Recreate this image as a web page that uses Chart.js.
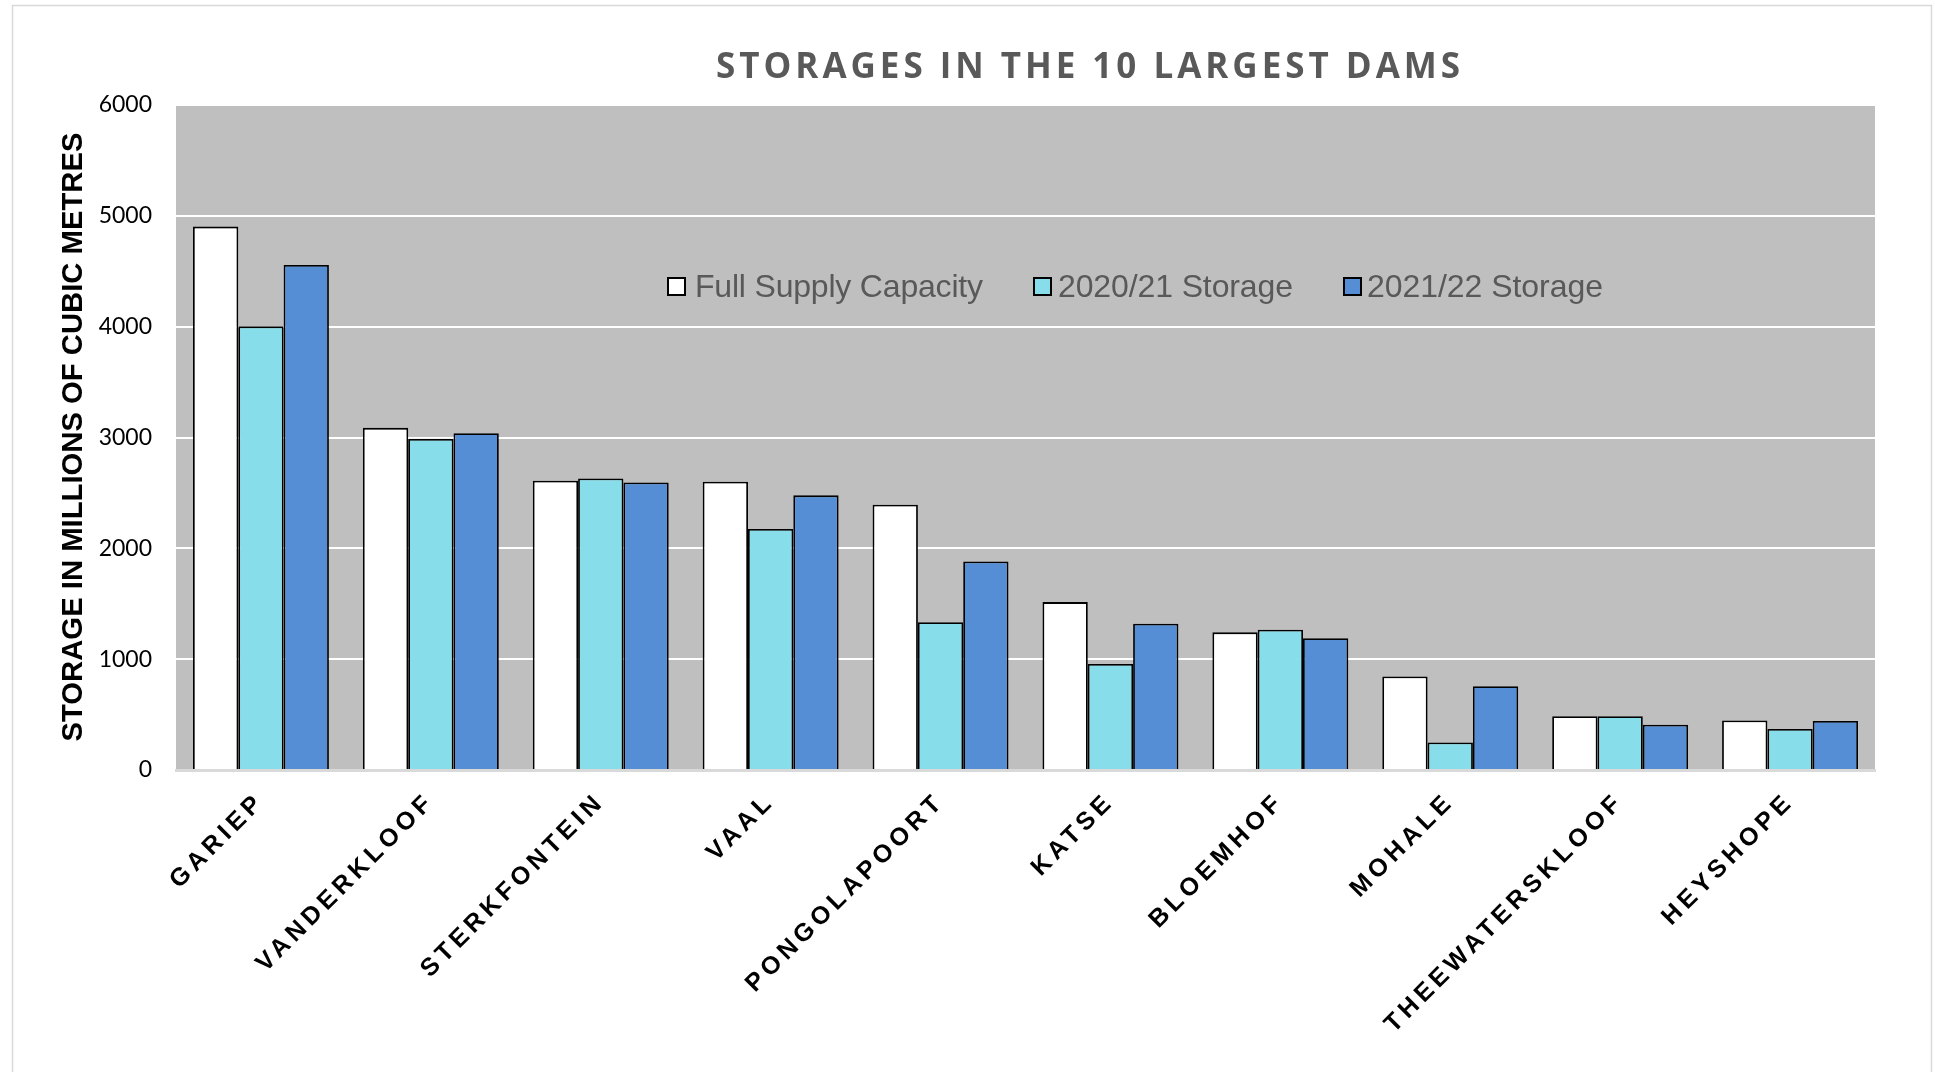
<!DOCTYPE html>
<html>
<head>
<meta charset="utf-8">
<script src="https://cdn.jsdelivr.net/npm/chart.js@4"></script>
<style>
html,body{margin:0;padding:0;background:#fff;}
#wrap{position:relative;width:1935px;height:1072px;}
</style>
</head>
<body>
<div id="wrap"><canvas id="c" width="1935" height="1072"></canvas></div>
<script>
// ---- data ----
const dams = ["GARIEP","VANDERKLOOF","STERKFONTEIN","VAAL","PONGOLAPOORT","KATSE","BLOEMHOF","MOHALE","THEEWATERSKLOOF","HEYSHOPE"];
const fullSupplyCapacity = [4903, 3087, 2610, 2601, 2393, 1515, 1242, 844, 485, 447];
const storage2020_21 = [4003, 2988, 2631, 2174, 1333, 957, 1265, 248, 485, 371];
const storage2021_22 = [4557, 3039, 2595, 2478, 1882, 1320, 1189, 755, 409, 443];
const seriesLabels = ["Full Supply Capacity", "2020/21 Storage", "2021/22 Storage"];
const yTicks = [0, 1000, 2000, 3000, 4000, 5000, 6000];
const chartTitle = "STORAGES IN THE 10 LARGEST DAMS";
const yAxisTitle = "STORAGE IN MILLIONS OF CUBIC METRES";

const colors = ["#FFFFFF", "#87DEEA", "#558ED5"];

const decor = {
  id: 'decor',
  beforeDraw(chart) {
    const {ctx, chartArea: a} = chart;
    ctx.save();
    ctx.fillStyle = '#BFBFBF';
    ctx.fillRect(a.left, a.top, a.right - a.left, a.bottom - a.top);
    ctx.restore();
  },
  afterDatasetsDraw(chart) {
    chart.ctx.letterSpacing = '4.5px';
  },
  afterDraw(chart) {
    const ctx = chart.ctx;
    ctx.letterSpacing = '0px';
    ctx.save();
    // outer border
    ctx.strokeStyle = '#D9D9D9';
    ctx.lineWidth = 1.5;
    ctx.strokeRect(12.5, 5.5, 1919, 1100);
    // title
    ctx.font = 'bold 35px "Open Sans"';
    ctx.fillStyle = '#595959';
    ctx.textBaseline = 'alphabetic';
    ctx.textAlign = 'left';
    let w = ctx.measureText(chartTitle).width;
    let sp = (744 - w) / (chartTitle.length - 1);
    ctx.letterSpacing = sp + 'px';
    ctx.fillText(chartTitle, 716, 78);
    ctx.letterSpacing = '0px';
    // y title
    ctx.font = 'bold 29px "Liberation Sans"';
    ctx.fillStyle = '#000';
    w = ctx.measureText(yAxisTitle).width;
    ctx.save();
    ctx.translate(74, 437);
    ctx.rotate(-Math.PI / 2);
    ctx.scale(609 / w, 1);
    ctx.textAlign = 'center';
    ctx.textBaseline = 'middle';
    ctx.fillText(yAxisTitle, 0, 0);
    ctx.restore();
    // legend
    const boxes = [668, 1034, 1344];
    const texts = [695, 1058, 1367];
    const widths = [288, 235, 236];
    ctx.font = '32px "Liberation Sans"';
    ctx.textAlign = 'left';
    ctx.textBaseline = 'alphabetic';
    chart.data.datasets.forEach((ds, i) => {
      ctx.fillStyle = ds.backgroundColor;
      ctx.fillRect(boxes[i], 278, 17, 17);
      ctx.strokeStyle = '#000';
      ctx.lineWidth = 2;
      ctx.strokeRect(boxes[i], 278, 17, 17);
      ctx.fillStyle = '#595959';
      ctx.letterSpacing = '0px';
      const tw = ctx.measureText(ds.label).width;
      ctx.letterSpacing = ((widths[i] - tw) / (ds.label.length - 1)) + 'px';
      ctx.fillText(ds.label, texts[i], 297);
      ctx.letterSpacing = '0px';
    });
    ctx.restore();
  }
};

function start() {
  new Chart(document.getElementById('c'), {
    type: 'bar',
    data: {
      labels: dams,
      datasets: [
        {label: seriesLabels[0], data: fullSupplyCapacity, backgroundColor: colors[0]},
        {label: seriesLabels[1], data: storage2020_21, backgroundColor: colors[1]},
        {label: seriesLabels[2], data: storage2021_22, backgroundColor: colors[2]}
      ].map(d => Object.assign(d, {borderColor: '#000', borderWidth: 1.8, categoryPercentage: 0.8, barPercentage: 1.0}))
    },
    options: {
      responsive: false,
      animation: false,
      events: [],
      layout: {padding: {top: 105, right: 60, bottom: 0, left: 0}},
      plugins: {legend: {display: false}, title: {display: false}, tooltip: {enabled: false}},
      scales: {
        x: {
          grid: {display: false},
          border: {display: true, color: '#D9D9D9', width: 3, z: 1},
          ticks: {
            z: 1,
            autoSkip: false,
            minRotation: 45, maxRotation: 45,
            padding: 9,
            color: '#000',
            font: {family: '"Liberation Sans"', size: 25, weight: 'bold'}
          },
          afterFit(s) { s.height = 302; s.paddingLeft = 0; s.paddingRight = 0; }
        },
        y: {
          min: 0, max: 6000,
          afterBuildTicks(s) { s.ticks = yTicks.map(v => ({value: v})); },
          grid: {color: '#FFFFFF', lineWidth: 2, drawTicks: false},
          border: {display: false},
          ticks: {
            padding: 24,
            color: '#000',
            font: {family: 'Lato', size: 23},
            callback: v => String(v)
          },
          afterFit(s) { s.width = 176; s.paddingTop = 0; s.paddingBottom = 0; }
        }
      }
    },
    plugins: [decor]
  });
}
Promise.all([
  document.fonts.load('bold 35px "Open Sans"'),
  document.fonts.load('23px Lato'),
  document.fonts.load('bold 29px "Liberation Sans"'),
  document.fonts.load('32px "Liberation Sans"')
]).then(start, start);
</script>
</body>
</html>
